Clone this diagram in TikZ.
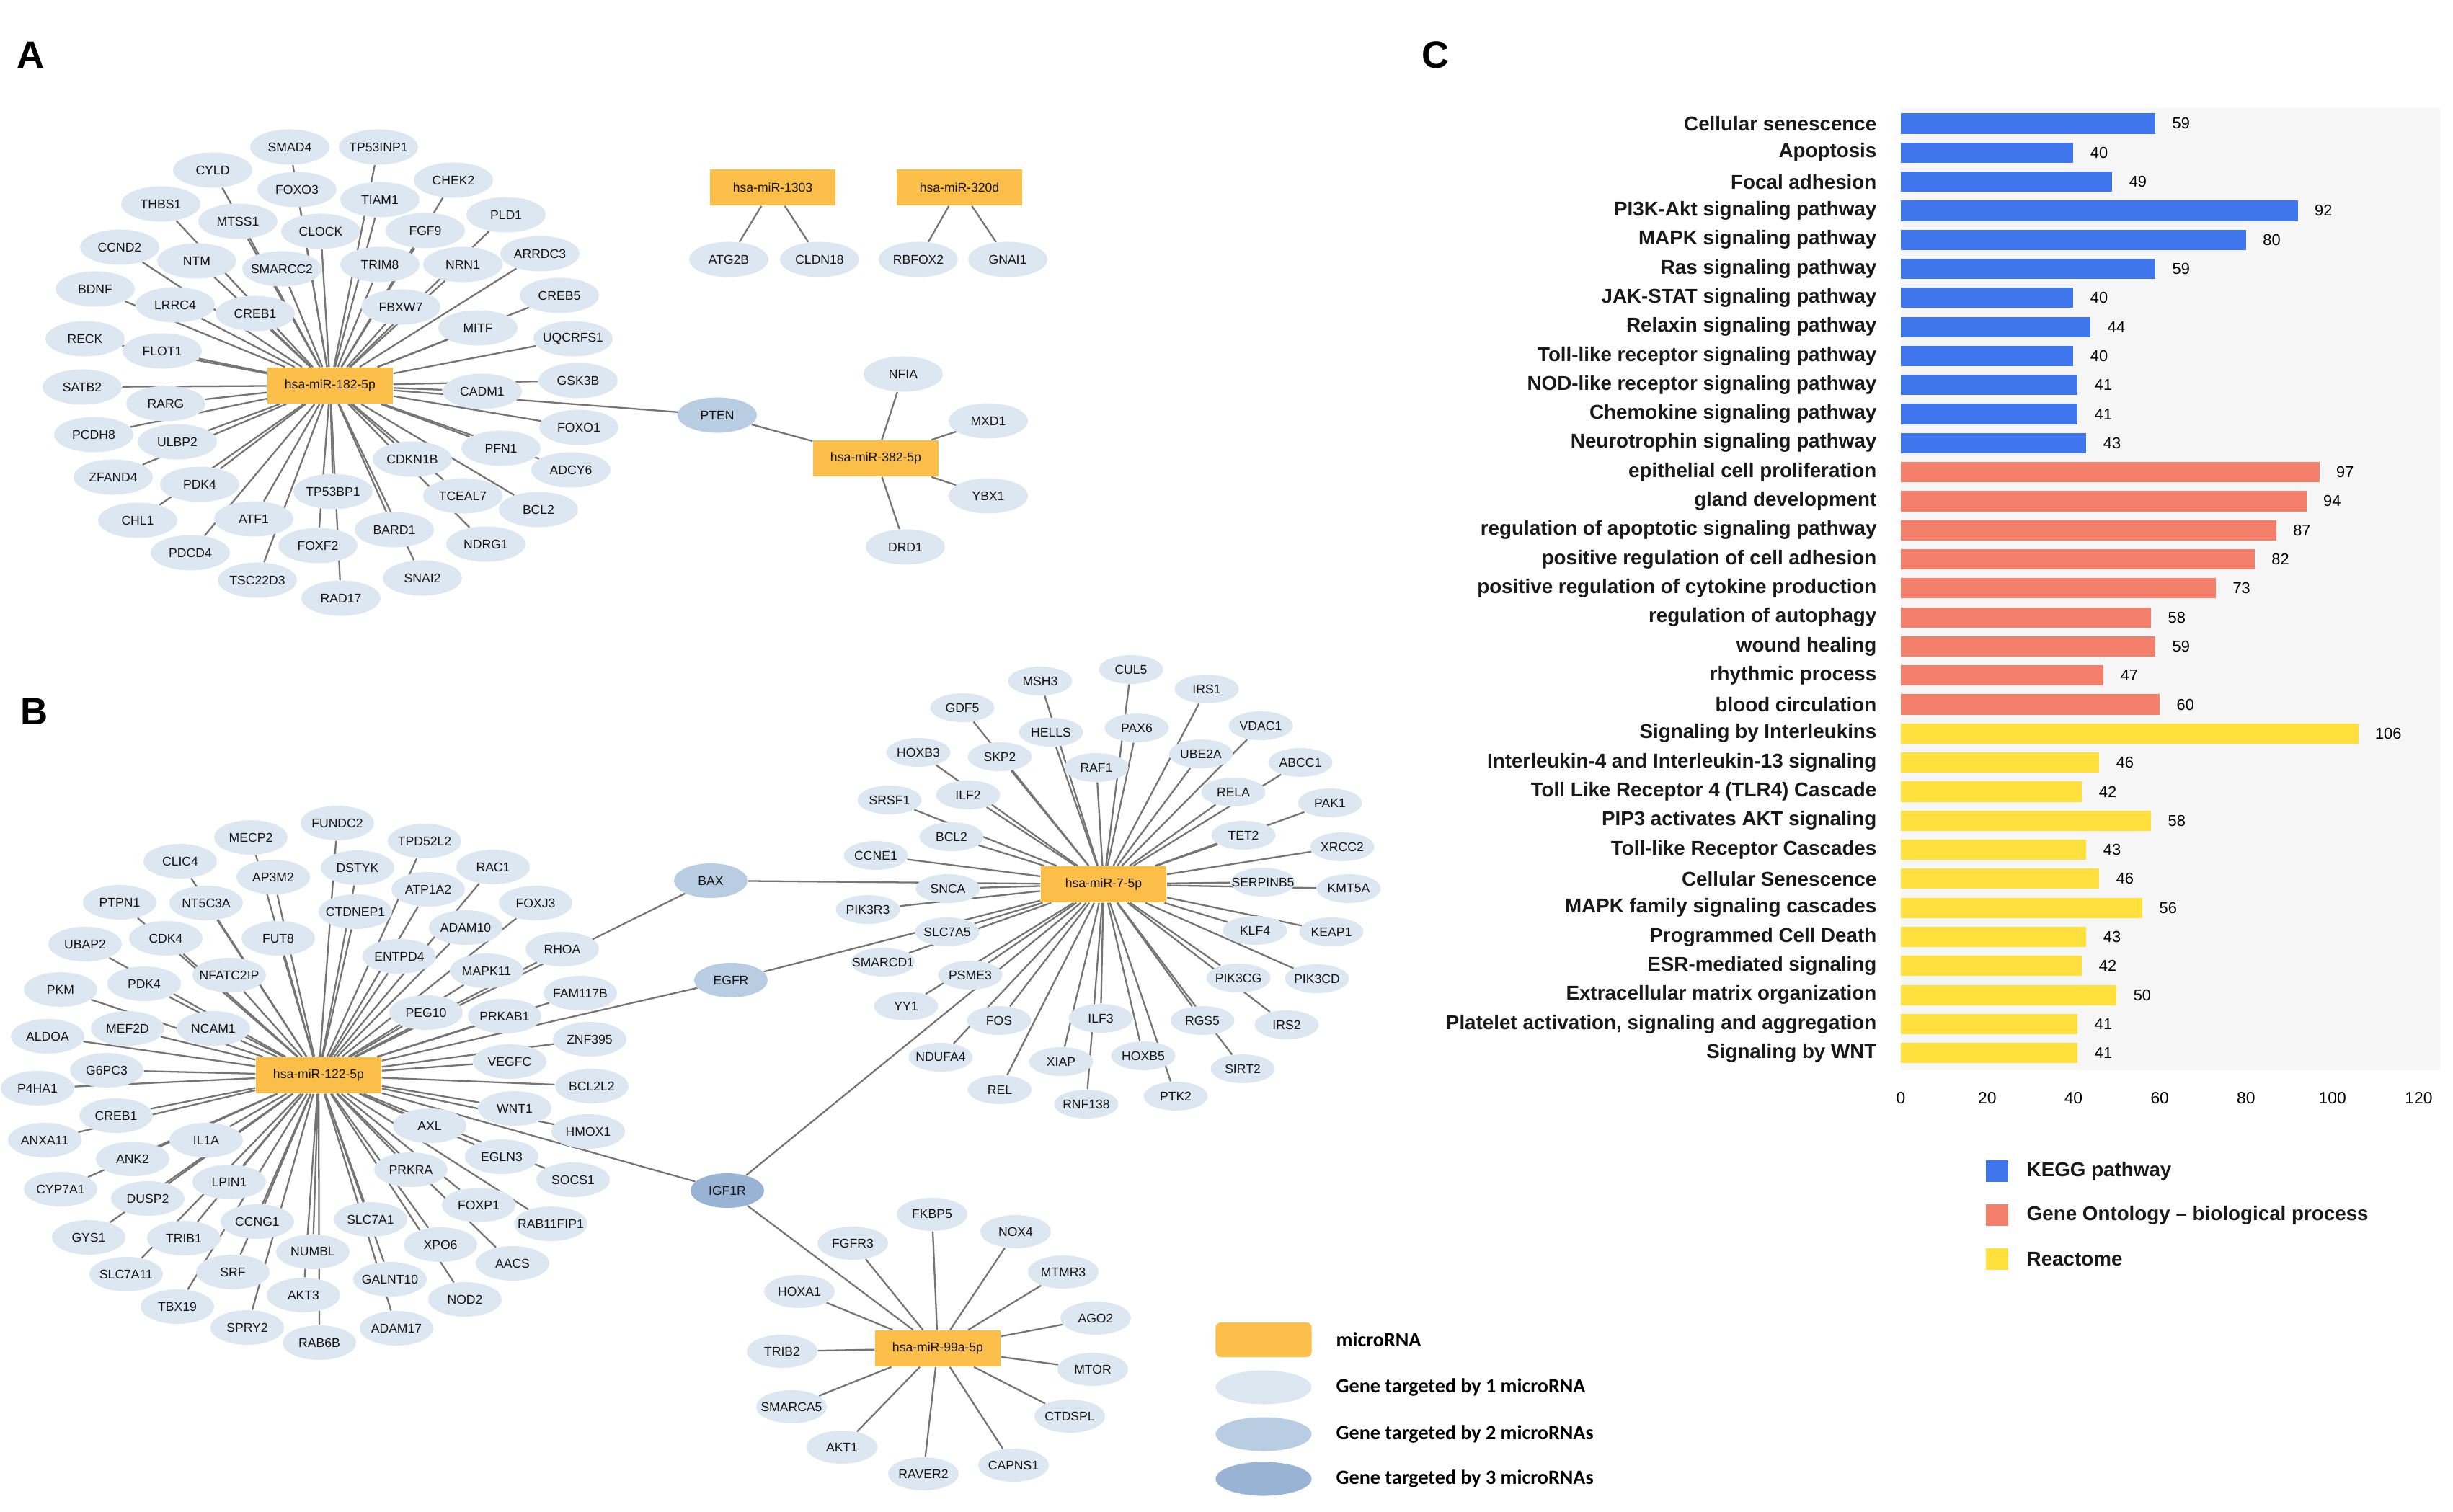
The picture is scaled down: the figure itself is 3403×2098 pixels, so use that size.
\documentclass[tikz,border=0pt]{standalone}
\usepackage{fontspec}
\setmainfont{Liberation Sans}
\newfontfamily\legendfont{Carlito}
\usetikzlibrary{shapes.geometric, positioning}
\definecolor{mirOrange}{HTML}{FBBE48}
\definecolor{geneOne}{HTML}{DDE7F1}
\definecolor{geneTwo}{HTML}{B9CDE2}
\definecolor{geneThree}{HTML}{98B3D3}
\definecolor{edgeGray}{gray}{0.46}
\definecolor{keggBlue}{HTML}{3F76EE}
\definecolor{goRed}{HTML}{F4806C}
\definecolor{reacYellow}{HTML}{FFE03D}
\definecolor{plotBg}{gray}{0.965}
\pgfdeclarelayer{background}
\pgfdeclarelayer{links}
\pgfsetlayers{background,links,main}

\tikzset{
  gene/.style={ellipse, fill=geneOne, minimum width=1.02cm, minimum height=0.48cm,
    inner xsep=-4pt, inner ysep=0pt, text=black!92, font=\fontsize{5}{6}\selectfont},
  geneA/.style={gene, minimum width=1.10cm, minimum height=0.49cm},
  geneC/.style={gene, minimum width=0.89cm, minimum height=0.40cm},
  geneD/.style={gene, minimum width=0.98cm, minimum height=0.46cm},
  hubtwo/.style={gene, fill=geneTwo},
  hubthree/.style={gene, fill=geneThree},
  mirna/.style={rectangle, fill=mirOrange, minimum width=1.74cm, minimum height=0.50cm,
    inner sep=1pt, text=black!92, font=\fontsize{5}{6}\selectfont},
  mirlink/.style={draw=edgeGray, line width=0.65pt},
  panellab/.style={font=\fontsize{15}{18}\selectfont\bfseries},
  keylab/.style={anchor=west, inner sep=0pt, font=\legendfont\fontsize{8}{10}\selectfont\bfseries},
  catlab/.style={anchor=east, inner sep=0pt, text=black!90, font=\fontsize{7.9}{9}\selectfont\bfseries},
  vallab/.style={anchor=west, inner sep=0pt, font=\fontsize{6.2}{7}\selectfont},
  ticklab/.style={inner sep=0pt, font=\fontsize{6.5}{8}\selectfont},
}

\begin{document}
\begin{tikzpicture}[x=0.01cm, y=-0.01cm]
  \begin{pgfonlayer}{background}
    \fill[white] (0,0) rectangle (3403,2098);
  \end{pgfonlayer}
  \useasboundingbox (0,0) rectangle (3403,2098);

  \node[panellab] (labA) at (43,76) {A};
  \node[panellab] (labB) at (48,987) {B};
  \node[panellab] (labC) at (1992,76) {C};

  % A: hsa-miR-182-5p and its targets
  \node[mirna] (m182) at (458,535) {hsa-miR-182-5p};
  \foreach \n/\x/\y in {SMAD4/402/204, TP53INP1/525/204, CYLD/295/236, FOXO3/412/263,
      THBS1/223/283, MTSS1/330/307, TIAM1/527/277, CHEK2/629/250, CLOCK/445/321,
      FGF9/590/320, PLD1/702/298, CCND2/166/343, NTM/273/362, SMARCC2/391/373,
      TRIM8/527/367, NRN1/642/367, ARRDC3/749/352, BDNF/132/401, LRRC4/243/423,
      CREB1/354/435, FBXW7/556/426, CREB5/776/410, MITF/663/455, UQCRFS1/795/470,
      RECK/118/470, FLOT1/225/487, GSK3B/802/528, CADM1/669/543, SATB2/114/537,
      RARG/230/560, FOXO1/803/593, PCDH8/130/603, ULBP2/246/613, PFN1/695/622,
      ADCY6/792/652, CDKN1B/572/637, ZFAND4/157/662, PDK4/277/672, TP53BP1/462/682,
      TCEAL7/642/688, BCL2/747/707, CHL1/191/722, ATF1/352/720, BARD1/547/735,
      FOXF2/441/757, NDRG1/674/755, PDCD4/264/767, SNAI2/586/802, TSC22D3/357/805,
      RAD17/473/830}{
    \node[geneA] (A\n) at (\x,\y) {\n};
    \begin{pgfonlayer}{links}\draw[mirlink] (m182) -- (A\n);\end{pgfonlayer}
  }

  % A: the small clusters
  \node[mirna] (m1303) at (1072,260) {hsa-miR-1303};
  \node[mirna] (m320) at (1331,260) {hsa-miR-320d};
  \node[mirna] (m382) at (1215,636) {hsa-miR-382-5p};
  \node[geneA] (atg) at (1011,360) {ATG2B};
  \node[geneA] (cldn) at (1137,360) {CLDN18};
  \node[geneA] (rbfox) at (1274,360) {RBFOX2};
  \node[geneA] (gnai) at (1398,360) {GNAI1};
  \node[geneA] (nfia) at (1253,519) {NFIA};
  \node[geneA] (mxd) at (1371,584) {MXD1};
  \node[geneA] (ybx) at (1371,688) {YBX1};
  \node[geneA] (drd) at (1256,759) {DRD1};
  \node[hubtwo, minimum width=1.10cm, minimum height=0.49cm] (pten) at (995,576) {PTEN};
  \begin{pgfonlayer}{links}
    \draw[mirlink] (m1303) -- (atg);
    \draw[mirlink] (m1303) -- (cldn);
    \draw[mirlink] (m320) -- (rbfox);
    \draw[mirlink] (m320) -- (gnai);
    \foreach \g in {nfia, mxd, ybx, drd, pten} \draw[mirlink] (m382) -- (\g);
    \draw[mirlink] (m182) -- (pten);
  \end{pgfonlayer}

  % B: hsa-miR-122-5p
  \node[mirna] (m122) at (442,1492) {hsa-miR-122-5p};
  \foreach \n/\x/\y in {FUNDC2/468/1142, MECP2/348/1162, TPD52L2/589/1167, CLIC4/250/1195,
      AP3M2/379/1217, DSTYK/496/1204, RAC1/684/1203, PTPN1/166/1252, NT5C3A/286/1253,
      ATP1A2/594/1234, CTDNEP1/493/1265, FOXJ3/743/1253, ADAM10/646/1287, CDK4/230/1302,
      FUT8/386/1302, ENTPD4/554/1327, RHOA/780/1317, UBAP2/118/1310, MAPK11/675/1347,
      FAM117B/805/1378, PDK4/200/1365, NFATC2IP/318/1353, PKM/84/1373, PEG10/591/1405,
      PRKAB1/700/1410, ZNF395/818/1442, MEF2D/177/1427, NCAM1/296/1427, ALDOA/66/1438,
      VEGFC/707/1473, G6PC3/148/1485, BCL2L2/821/1507, P4HA1/52/1510, WNT1/714/1538,
      CREB1/161/1548, IL1A/286/1582, AXL/596/1562, HMOX1/816/1570, ANXA11/62/1582,
      ANK2/184/1608, EGLN3/696/1605, LPIN1/318/1640, SOCS1/795/1637, PRKRA/570/1623,
      CYP7A1/84/1650, DUSP2/205/1663, FOXP1/664/1672, RAB11FIP1/764/1698, CCNG1/357/1695,
      SLC7A1/514/1692, TRIB1/255/1718, GYS1/123/1717, XPO6/611/1727, AACS/711/1753,
      NUMBL/434/1737, SRF/323/1765, SLC7A11/175/1768, AKT3/421/1797, GALNT10/541/1775,
      NOD2/645/1803, TBX19/246/1813, SPRY2/343/1842, ADAM17/550/1843, RAB6B/443/1863}{
    \node[gene] (B\n) at (\x,\y) {\n};
    \begin{pgfonlayer}{links}\draw[mirlink] (m122) -- (B\n);\end{pgfonlayer}
  }

  % B: hsa-miR-7-5p
  \node[mirna] (m7) at (1531,1227) {hsa-miR-7-5p};
  \foreach \n/\x/\y in {CUL5/1569/929, MSH3/1443/945, IRS1/1674/956, GDF5/1335/982,
      HELLS/1458/1016, PAX6/1577/1010, VDAC1/1749/1007, HOXB3/1274/1044, SKP2/1387/1050,
      RAF1/1521/1065, UBE2A/1666/1046, ABCC1/1804/1058, ILF2/1343/1103, SRSF1/1234/1110,
      RELA/1711/1099, PAK1/1845/1114, BCL2/1320/1161, TET2/1725/1159, CCNE1/1215/1187,
      XRCC2/1862/1175, SNCA/1315/1233, SERPINB5/1752/1224, KMT5A/1871/1233,
      PIK3R3/1204/1262, SLC7A5/1314/1293, KLF4/1741/1291, KEAP1/1847/1293,
      SMARCD1/1225/1335, PSME3/1346/1353, PIK3CG/1718/1357, PIK3CD/1827/1358,
      YY1/1257/1396, FOS/1386/1416, ILF3/1527/1413, RGS5/1668/1416, IRS2/1785/1422,
      NDUFA4/1305/1467, XIAP/1472/1473, HOXB5/1586/1465, SIRT2/1724/1483, REL/1387/1512,
      RNF138/1507/1532, PTK2/1631/1521}{
    \node[geneC] (C\n) at (\x,\y) {\n};
    \begin{pgfonlayer}{links}\draw[mirlink] (m7) -- (C\n);\end{pgfonlayer}
  }

  % B: hsa-miR-99a-5p
  \node[mirna] (m99) at (1301,1871) {hsa-miR-99a-5p};
  \foreach \n/\x/\y in {FKBP5/1293/1685, NOX4/1409/1709, FGFR3/1183/1725, MTMR3/1475/1765,
      HOXA1/1109/1792, AGO2/1520/1829, TRIB2/1085/1875, MTOR/1516/1900, SMARCA5/1098/1952,
      CTDSPL/1484/1965, AKT1/1168/2008, CAPNS1/1406/2033, RAVER2/1281/2045}{
    \node[geneD] (D\n) at (\x,\y) {\n};
    \begin{pgfonlayer}{links}\draw[mirlink] (m99) -- (D\n);\end{pgfonlayer}
  }

  % genes shared between microRNAs
  \node[hubtwo] (bax) at (986,1222) {BAX};
  \node[hubtwo] (egfr) at (1014,1360) {EGFR};
  \node[hubthree] (igf) at (1009,1652) {IGF1R};
  \begin{pgfonlayer}{links}
    \foreach \g in {bax, egfr, igf} {
      \draw[mirlink] (m122) -- (\g);
      \draw[mirlink] (m7) -- (\g);
    }
    \draw[mirlink] (m99) -- (igf);
  \end{pgfonlayer}

  % legend of the networks
  \node[rectangle, rounded corners=2pt, fill=mirOrange, minimum width=1.33cm, minimum height=0.48cm] (keyMir) at (1753,1859) {};
  \node[ellipse, fill=geneOne, minimum width=1.33cm, minimum height=0.47cm] (keyOne) at (1753,1925) {};
  \node[ellipse, fill=geneTwo, minimum width=1.33cm, minimum height=0.47cm] (keyTwo) at (1753,1990) {};
  \node[ellipse, fill=geneThree, minimum width=1.33cm, minimum height=0.47cm] (keyThree) at (1753,2052) {};
  \node[keylab] (txtMir) at (1853,1859) {microRNA};
  \node[keylab] (txtOne) at (1853,1925) {Gene targeted by 1 microRNA};
  \node[keylab] (txtTwo) at (1853,1990) {Gene targeted by 2 microRNAs};
  \node[keylab] (txtThree) at (1853,2052) {Gene targeted by 3 microRNAs};

  % C: enrichment bars
  \begin{scope}[shift={(2637,171.5)}, x=0.05983cm, y=-0.4028cm]
    \fill[plotBg] (0,-0.53) rectangle (125,32.6);
    \foreach \lab/\val/\col [count=\i from 0] in {
        Cellular senescence/59/keggBlue, Apoptosis/40/keggBlue, Focal adhesion/49/keggBlue,
        PI3K-Akt signaling pathway/92/keggBlue, MAPK signaling pathway/80/keggBlue,
        Ras signaling pathway/59/keggBlue, JAK-STAT signaling pathway/40/keggBlue,
        Relaxin signaling pathway/44/keggBlue, Toll-like receptor signaling pathway/40/keggBlue,
        NOD-like receptor signaling pathway/41/keggBlue, Chemokine signaling pathway/41/keggBlue,
        Neurotrophin signaling pathway/43/keggBlue,
        epithelial cell proliferation/97/goRed, gland development/94/goRed,
        regulation of apoptotic signaling pathway/87/goRed,
        positive regulation of cell adhesion/82/goRed,
        positive regulation of cytokine production/73/goRed,
        regulation of autophagy/58/goRed, wound healing/59/goRed,
        rhythmic process/47/goRed, blood circulation/60/goRed,
        Signaling by Interleukins/106/reacYellow,
        Interleukin-4 and Interleukin-13 signaling/46/reacYellow,
        Toll Like Receptor 4 (TLR4) Cascade/42/reacYellow,
        PIP3 activates AKT signaling/58/reacYellow, Toll-like Receptor Cascades/43/reacYellow,
        Cellular Senescence/46/reacYellow, MAPK family signaling cascades/56/reacYellow,
        Programmed Cell Death/43/reacYellow, ESR-mediated signaling/42/reacYellow,
        Extracellular matrix organization/50/reacYellow,
        {Platelet activation, signaling and aggregation}/41/reacYellow,
        Signaling by WNT/41/reacYellow}{
      \fill[\col] (0,\i-0.35) rectangle (\val,\i+0.35);
      \node[catlab] (cat\i) at (-5.5,\i) {\lab};
      \node[vallab] (val\i) at (\val+3.8,\i) {\val};
    }
    \foreach \t in {0,20,...,120} \node[ticklab] (tick\t) at (\t,33.55) {\t};
  \end{scope}

  % legend of the bars
  \foreach \lab/\col/\y in {KEGG pathway/keggBlue/1625,
      Gene Ontology – biological process/goRed/1686, Reactome/reacYellow/1747}{
    \fill[\col] (2755,\y-15) rectangle (2786,\y+15);
    \node[catlab, anchor=west] at (2811,\y) {\lab};
  }
\end{tikzpicture}
\end{document}
